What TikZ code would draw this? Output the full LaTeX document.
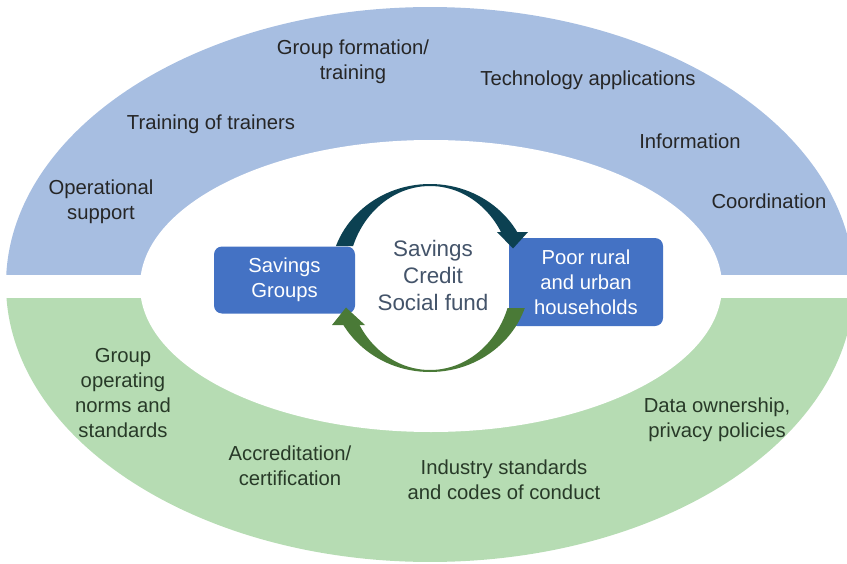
\documentclass[tikz,border=0pt]{standalone}
\usepackage{fontspec}
\setmainfont{Liberation Sans}
\definecolor{bandblue}{HTML}{A7BEE1}
\definecolor{bandgreen}{HTML}{B6DCB3}
\definecolor{boxblue}{HTML}{4472C4}
\definecolor{darkarc}{HTML}{0C4152}
\definecolor{greenarc}{HTML}{4A7A37}
\definecolor{midtext}{HTML}{44546A}
\definecolor{bluetext}{HTML}{262626}
\definecolor{greentext}{HTML}{283A28}
\tikzset{
  lbl/.style={inner sep=0pt, align=center, font=\fontsize{15.2}{18.75}\selectfont},
  bluelbl/.style={lbl, text=bluetext},
  greenlbl/.style={lbl, text=greentext},
  mainbox/.style={fill=boxblue, rounded corners=6pt, inner sep=0pt, text=white,
     align=center, font=\fontsize{15.2}{18.75}\selectfont},
}
\begin{document}
\begin{tikzpicture}[x=0.75pt,y=-0.75pt]
\useasboundingbox (0,0) rectangle (847,564);
% outer bands
\begin{scope}
  \clip (0,0) rectangle (847,274);
  \fill[bandblue] (430,284.5) ellipse [x radius=318pt, y radius=208.1pt];
\end{scope}
\begin{scope}
  \clip (0,298) rectangle (847,564);
  \fill[bandgreen] (430,284.5) ellipse [x radius=318pt, y radius=208.1pt];
\end{scope}
\fill[white] (431,286) ellipse [x radius=218.25pt, y radius=109.5pt];

% boxes
\node[mainbox, minimum width=105.75pt, minimum height=50.25pt] (sg) at (284.5,280) {Savings\\Groups};
\node[mainbox, minimum width=115.5pt, minimum height=66pt] (ph) at (586,282) {Poor rural\\and urban\\households};

% circular arrows
\coordinate (cc) at (430,278);
\begin{scope}
  \clip (300,150) -- (560,150) -- (560,232) -- (430,232) -- (430,246) -- (300,246) -- cycle;
  \fill[darkarc, even odd rule] (cc) ellipse [x radius=75pt, y radius=70.5pt]
        (cc) ellipse [x radius=61.5pt, y radius=69pt];
\end{scope}
\fill[darkarc] (497,232) -- (528,232) -- (513,248.5) -- cycle;
\begin{scope}
  \clip (560,308) -- (430,308) -- (430,325) -- (300,325) -- (300,400) -- (560,400) -- cycle;
  \fill[greenarc, even odd rule] (cc) ellipse [x radius=75pt, y radius=70.5pt]
        (cc) ellipse [x radius=61.5pt, y radius=69pt];
\end{scope}
\fill[greenarc] (332,325) -- (365,325) -- (346,307.5) -- cycle;

% centre text
\node[inner sep=0pt, align=center, text=midtext, font=\fontsize{16.8}{20.25}\selectfont] (mid) at (433,275) {Savings\\Credit\\Social fund};

% blue band labels
\node[bluelbl] (gf) at (353,62) {Group formation/\\training};
\node[bluelbl] (ta) at (588,80) {Technology applications};
\node[bluelbl] (tt) at (211,124) {Training of trainers};
\node[bluelbl] (inf) at (690,141) {Information};
\node[bluelbl] (os) at (101,202) {Operational\\support};
\node[bluelbl] (co) at (769,201) {Coordination};

% green band labels
\node[greenlbl] (gn) at (123,393) {Group\\operating\\norms and\\standards};
\node[greenlbl] (ac) at (290,466) {Accreditation/\\certification};
\node[greenlbl] (is) at (504,480) {Industry standards\\and codes of conduct};
\node[greenlbl] (dp) at (717,420) {Data ownership,\\privacy policies};
\end{tikzpicture}
\end{document}
